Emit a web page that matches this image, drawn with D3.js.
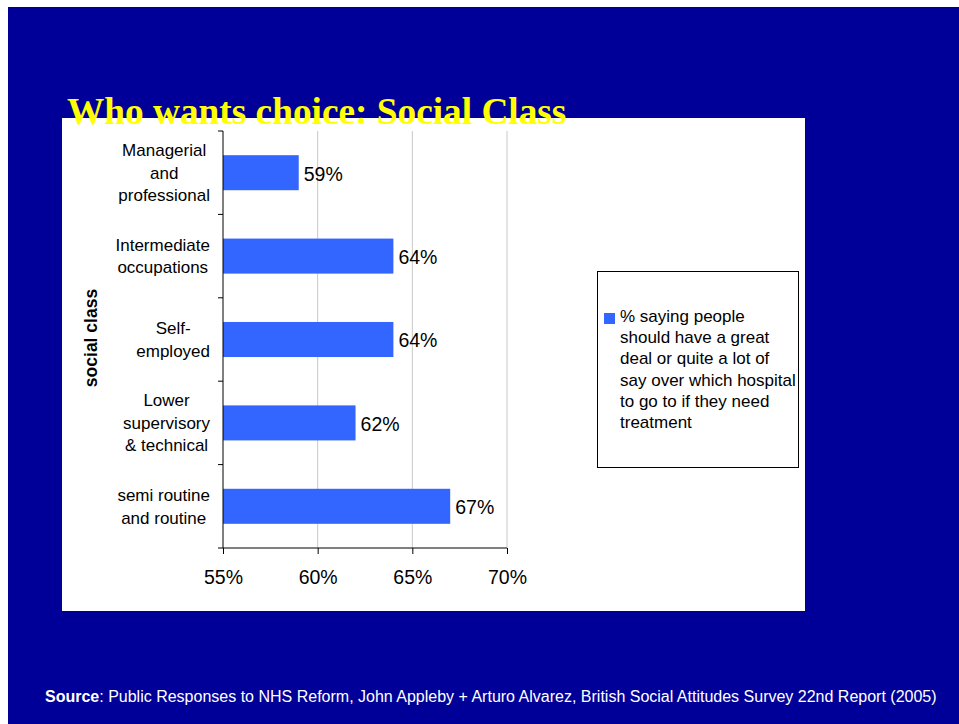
<!DOCTYPE html>
<html>
<head>
<meta charset="utf-8">
<script src="https://cdn.jsdelivr.net/npm/d3@7"></script>
<style>
  html, body { margin: 0; padding: 0; background: #ffffff; }
  svg { display: block; }
</style>
</head>
<body>
<svg id="chart" width="959" height="724"></svg>
<script>
// Social class groups, top to bottom
const categories = [
  ["Managerial", "and", "professional"],
  ["Intermediate", "occupations"],
  ["Self-", "employed"],
  ["Lower", "supervisory", "& technical"],
  ["semi routine", "and routine"]
];
const categoryKeys = ["managerial", "intermediate", "self", "lower", "semi"];
// % saying people should have a say over which hospital
const values = [59, 64, 64, 62, 67];
const xTicks = [55, 60, 65, 70];
const legendLines = [
  "% saying people",
  "should have a great",
  "deal or quite a lot of",
  "say over which hospital",
  "to go to if they need",
  "treatment"
];

const svg = d3.select("#chart");
const font = "Arial, 'Liberation Sans', sans-serif";

// slide background
svg.append("rect").attr("x", 8).attr("y", 7).attr("width", 951).attr("height", 717)
  .attr("fill", "#000099");

// white chart panel
svg.append("rect").attr("x", 62).attr("y", 118).attr("width", 743).attr("height", 493)
  .attr("fill", "#ffffff");

const plot = { left: 223, right: 507, top: 131, bottom: 548 };

const x = d3.scaleLinear().domain([55, 70]).range([plot.left, plot.right]);
const y = d3.scaleBand().domain(categoryKeys).range([plot.top, plot.bottom])
  .paddingInner(0.58).paddingOuter(0.29);

// vertical gridlines
svg.append("g").selectAll("line").data(xTicks.slice(1)).join("line")
  .attr("x1", d => x(d)).attr("x2", d => x(d))
  .attr("y1", plot.top).attr("y2", plot.bottom)
  .attr("stroke", "#c8c8c8").attr("stroke-width", 1);

// bars
svg.append("g").selectAll("rect").data(values).join("rect")
  .attr("x", x(55))
  .attr("y", (d, i) => y(categoryKeys[i]))
  .attr("width", d => x(d) - x(55))
  .attr("height", y.bandwidth())
  .attr("fill", "#3366ff");

// value labels
svg.append("g").selectAll("text").data(values).join("text")
  .attr("x", d => x(d) + 5)
  .attr("y", (d, i) => y(categoryKeys[i]) + y.bandwidth() / 2 + 1)
  .attr("dy", "0.35em")
  .attr("font-family", font).attr("font-size", 19.5).attr("fill", "#000")
  .text(d => d + "%");

// x axis
const xAxis = d3.axisBottom(x).tickValues(xTicks).tickSize(6).tickPadding(16)
  .tickFormat(d => d + "%");
const gx = svg.append("g").attr("transform", `translate(0,${plot.bottom})`).call(xAxis);
gx.select(".domain").attr("stroke", "#000").attr("d", `M${plot.left},0H${plot.right}`);
gx.selectAll(".tick line").attr("stroke", "#000");
gx.selectAll("text").attr("font-family", font).attr("font-size", 19.5).attr("fill", "#000");

// y axis line with ticks at band boundaries
const bounds = d3.range(categoryKeys.length + 1).map(i => plot.top + i * (plot.bottom - plot.top) / categoryKeys.length);
svg.append("line").attr("x1", plot.left).attr("x2", plot.left)
  .attr("y1", plot.top).attr("y2", plot.bottom).attr("stroke", "#000");
svg.append("g").selectAll("line").data(bounds).join("line")
  .attr("x1", plot.left - 5).attr("x2", plot.left)
  .attr("y1", d => d).attr("y2", d => d).attr("stroke", "#000");

// category labels: centred lines, right-aligned block
const lineH = 22.5;
const labelRight = 210;
categories.forEach((lines, i) => {
  const cy = y(categoryKeys[i]) + y.bandwidth() / 2;
  const g = svg.append("g");
  const texts = g.selectAll("text").data(lines).join("text")
    .attr("y", (d, j) => cy + (j - (lines.length - 1) / 2) * lineH)
    .attr("dy", "0.35em")
    .attr("text-anchor", "middle")
    .attr("font-family", font).attr("font-size", 17).attr("fill", "#000")
    .text(d => d);
  let maxW = 0;
  texts.each(function () { maxW = Math.max(maxW, this.getComputedTextLength()); });
  texts.attr("x", labelRight - maxW / 2);
});

// y axis title
svg.append("text")
  .attr("transform", "translate(97,338) rotate(-90)")
  .attr("text-anchor", "middle")
  .attr("font-family", font).attr("font-size", 17.5).attr("font-weight", "bold").attr("fill", "#000")
  .text("social class");

// legend
svg.append("rect").attr("x", 597.5).attr("y", 271.5).attr("width", 201).attr("height", 196)
  .attr("fill", "#fff").attr("stroke", "#000").attr("stroke-width", 1);
svg.append("rect").attr("x", 604).attr("y", 313).attr("width", 11).attr("height", 11)
  .attr("fill", "#3366ff");
svg.append("g").selectAll("text").data(legendLines).join("text")
  .attr("x", 620)
  .attr("y", (d, i) => 316 + i * 21.2)
  .attr("dy", "0.35em")
  .attr("font-family", font).attr("font-size", 17).attr("fill", "#000")
  .text(d => d);

// title
svg.append("text")
  .attr("x", 67).attr("y", 124)
  .attr("font-family", "'Times New Roman', 'Liberation Serif', serif")
  .attr("font-size", 37.3).attr("font-weight", "bold").attr("fill", "#ffff00")
  .text("Who wants choice: Social Class");

// source note
const src = svg.append("text")
  .attr("x", 45).attr("y", 702)
  .attr("font-family", font).attr("font-size", 16).attr("fill", "#fff");
src.append("tspan").attr("font-weight", "bold").text("Source");
src.append("tspan").text(": Public Responses to NHS Reform, John Appleby + Arturo Alvarez, British Social Attitudes Survey 22nd Report (2005)");
</script>
</body>
</html>
